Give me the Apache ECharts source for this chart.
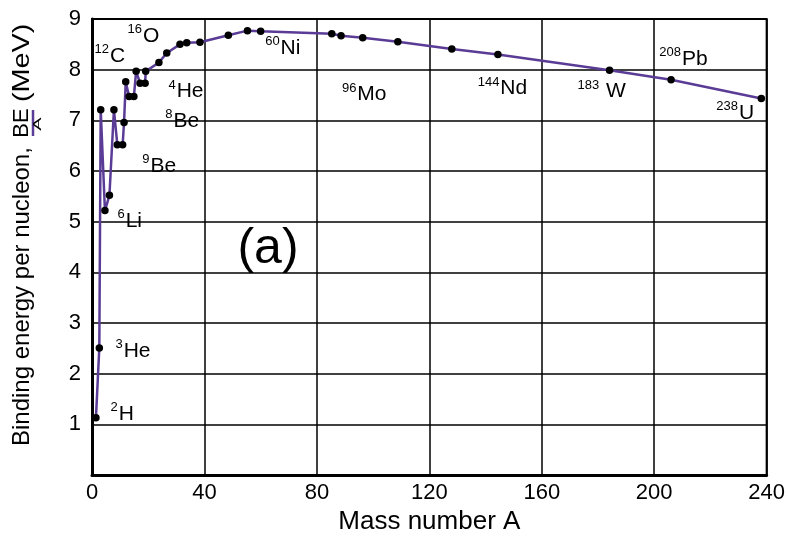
<!DOCTYPE html>
<html><head><meta charset="utf-8">
<script src="https://cdn.jsdelivr.net/npm/echarts@6/dist/echarts.min.js"></script>
<style>html,body{margin:0;padding:0;background:#fff}#c{width:788px;height:540px}</style>
</head><body><div id="c"></div>
<script>
// Mass number A and binding energy per nucleon (MeV)
const massNumber = [1.4, 2.6, 3.1, 4.6, 6.2, 7.8, 9.0, 10.9, 11.4, 12.0, 13.2, 14.9, 15.7, 17.1, 18.9, 19.1, 23.8, 26.6, 31.3, 33.7, 38.4, 48.5, 55.3, 60.0, 85.3, 88.6, 96.3, 108.8, 128.0, 144.4, 184.1, 206.0, 238.1];
const bindingEnergy = [1.13, 2.51, 7.21, 5.22, 5.52, 7.21, 6.52, 6.52, 6.96, 7.76, 7.47, 7.47, 7.97, 7.73, 7.73, 7.97, 8.14, 8.33, 8.50, 8.53, 8.54, 8.68, 8.77, 8.76, 8.71, 8.67, 8.63, 8.55, 8.41, 8.30, 7.99, 7.80, 7.43];

// nuclide annotations
const nuclideMass = ['16', '12', '4', '8', '9', '6', '3', '2', '60', '96', '144', '183', '208', '238'];
const nuclideSymbol = ['O', 'C', 'He', 'Be', 'Be', 'Li', 'He', 'H', 'Ni', 'Mo', 'Nd', ' W', 'Pb', 'U'];

// tick values
const xTicks = [0, 40, 80, 120, 160, 200, 240];
const yTicks = [0, 1, 2, 3, 4, 5, 6, 7, 8, 9];

// layout: where each annotation sits (data coordinates)
const labelAnchors = [[12.6, 8.67], [0.9, 8.27], [27.2, 7.57], [26.1, 6.99], [17.9, 6.10], [9.05, 5.01], [8.34, 2.45], [6.57, 1.20], [61.6, 8.43], [88.9, 7.51], [137.2, 7.63], [172.7, 7.57], [201.8, 8.21], [222.1, 7.14]];

const FONT = '"Liberation Sans", Arial, sans-serif';
const PURPLE = '#5a3c96';

const chart = echarts.init(document.getElementById('c'), null, {renderer: 'canvas'});

const lineData = massNumber.map((a, i) => [a, bindingEnergy[i]]);
const annData = labelAnchors.map((p, i) => ({value: p, mass: nuclideMass[i], sym: nuclideSymbol[i]}));

chart.setOption({
  animation: false,
  backgroundColor: '#fff',
  grid: {left: 92, right: 21, top: 19, bottom: 59, show: true, borderColor: '#000', borderWidth: 2},
  xAxis: {
    type: 'value', min: xTicks[0], max: xTicks[xTicks.length - 1], interval: 40,
    axisLine: {show: true, onZero: false, lineStyle: {color: '#000', width: 3}},
    axisTick: {show: false},
    axisLabel: {color: '#000', fontSize: 22, fontFamily: FONT, margin: 7},
    splitLine: {show: true, lineStyle: {color: '#000', width: 1.5}},
    name: 'Mass number A', nameLocation: 'middle', nameGap: 28,
    nameTextStyle: {color: '#000', fontSize: 26, fontFamily: FONT}
  },
  yAxis: {
    type: 'value', min: yTicks[0], max: yTicks[yTicks.length - 1], interval: 1,
    axisLine: {show: true, lineStyle: {color: '#000', width: 3}},
    axisTick: {show: false},
    axisLabel: {color: '#000', fontSize: 22, fontFamily: FONT, margin: 11,
      formatter: v => (v === 0 ? '' : String(v))},
    splitLine: {show: true, lineStyle: {color: '#000', width: 1.5}}
  },
  series: [
    {
      type: 'line', data: lineData, symbol: 'circle', symbolSize: 7.5, showAllSymbol: true,
      itemStyle: {color: '#000'}, lineStyle: {color: PURPLE, width: 2.5}, z: 3
    },
    {
      type: 'scatter', data: annData, symbolSize: 0, silent: true, z: 4,
      itemStyle: {opacity: 1},
      label: {
        show: true, position: 'right', distance: 0, color: '#000', opacity: 1,
        formatter: p => '{s|' + p.data.mass + '}{m|' + p.data.sym + '}',
        rich: {
          s: {fontSize: 13, fontFamily: FONT, color: '#000', verticalAlign: 'top', lineHeight: 13},
          m: {fontSize: 21, fontFamily: FONT, color: '#000', lineHeight: 26, padding: [0, 0, 0, 1]}
        }
      }
    }
  ],
  graphic: [
    {type: 'text', x: 22, y: 446, rotation: Math.PI / 2,
      style: {text: 'Binding energy per nucleon,', font: '24px ' + FONT, fill: '#000', align: 'left', verticalAlign: 'middle'}},
    {type: 'text', x: 22, y: 123, rotation: Math.PI / 2,
      style: {text: 'BE', font: '22px ' + FONT, fill: '#000', align: 'center', verticalAlign: 'middle'}},
    {type: 'line', shape: {x1: 33, y1: 110, x2: 33, y2: 136}, style: {stroke: PURPLE, lineWidth: 2.5}},
    {type: 'text', x: 38.5, y: 124, rotation: Math.PI / 2, scaleY: 0.5,
      style: {text: 'A', font: '20px ' + FONT, fill: '#000', align: 'center', verticalAlign: 'middle'}},
    {type: 'text', x: 22, y: 102, rotation: Math.PI / 2, scaleX: 1.2,
      style: {text: '(MeV)', font: '24px ' + FONT, fill: '#000', align: 'left', verticalAlign: 'middle'}},
    {type: 'text', x: 268, y: 249,
      style: {text: '(a)', font: '50px ' + FONT, fill: '#000', align: 'center', verticalAlign: 'middle'}}
  ]
});
</script>
</body></html>
